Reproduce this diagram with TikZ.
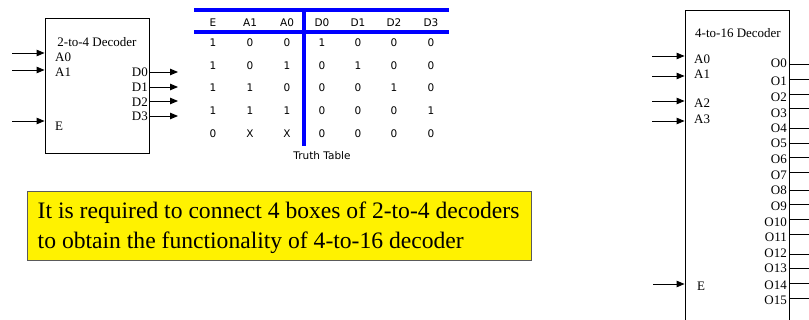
\documentclass[tikz,border=0pt]{standalone}
\usepackage{fontspec}
\setmainfont{Liberation Serif}
\newfontfamily\ttabfont{DejaVu Sans}
\usetikzlibrary{arrows.meta}
\definecolor{tblue}{RGB}{0,0,255}
\definecolor{boxgray}{RGB}{90,90,90}
\tikzset{
  decbox/.style={draw=black, line width=0.9pt, inner sep=0pt},
  arr/.style={-{Triangle[length=8pt,width=6.5pt]}, line width=0.9pt},
  wire/.style={line width=0.9pt},
  lbl/.style={font=\fontsize{13}{14}\selectfont, inner sep=0pt},
  tlab/.style={font=\ttabfont\fontsize{10.5}{12}\selectfont, inner sep=0pt},
  tline/.style={draw=tblue, line width=3.5pt},
  notebox/.style={draw=boxgray, line width=0.9pt, fill=yellow, inner sep=0pt,
    minimum width=504pt, minimum height=69pt},
  notetext/.style={inner sep=0pt, align=left, font=\fontsize{23.6}{29.5}\selectfont}
}
\begin{document}
\begin{tikzpicture}[x=1pt,y=-1pt]
\useasboundingbox (0,0) rectangle (809,320);
\clip (0,0) rectangle (809,320);
\fill[white] (0,0) rectangle (809,320);

% ---- 2-to-4 decoder
\node[decbox, minimum width=104pt, minimum height=135pt] (d24) at (97,85.5) {};
\node[lbl] (d24t) at (97,42) {2-to-4 Decoder};
\node[lbl, anchor=west] (la0) at (55,57) {A0};
\node[lbl, anchor=west] (la1) at (55,72) {A1};
\node[lbl, anchor=west] (le) at (55,126) {E};
\node[lbl, anchor=east] (ld0) at (148,72) {D0};
\node[lbl, anchor=east] (ld1) at (148,87) {D1};
\node[lbl, anchor=east] (ld2) at (148,102) {D2};
\node[lbl, anchor=east] (ld3) at (148,116) {D3};
\coordinate (ia0) at (12,53);
\coordinate (ia1) at (12,70);
\coordinate (ie) at (12,121);
\draw[arr] (ia0) -- (ia0 -| d24.west);
\draw[arr] (ia1) -- (ia1 -| d24.west);
\draw[arr] (ie) -- (ie -| d24.west);
\coordinate (od0) at (178,72);
\coordinate (od1) at (178,87);
\coordinate (od2) at (178,101);
\coordinate (od3) at (178,116);
\foreach \o in {od0,od1,od2,od3} \draw[arr] (\o -| d24.east) -- (\o);

% ---- truth table
\draw[tline] (194,10) -- (449,10);
\draw[tline] (194,32) -- (449,32);
\draw[tline] (304,10) -- (304,146);
\foreach \x/\t in {213/E,250/A1,287/A0,322/D0,358/D1,394/D2,431/D3}
  \node[tlab] at (\x,23) {\t};
\foreach \y/\a/\b/\c/\d/\e/\f/\g in {43/1/0/0/1/0/0/0, 66/1/0/1/0/1/0/0, 88/1/1/0/0/0/1/0, 111/1/1/1/0/0/0/1, 134/0/X/X/0/0/0/0}{
  \node[tlab] at (213,\y) {\a};
  \node[tlab] at (250,\y) {\b};
  \node[tlab] at (287,\y) {\c};
  \node[tlab] at (322,\y) {\d};
  \node[tlab] at (358,\y) {\e};
  \node[tlab] at (394,\y) {\f};
  \node[tlab] at (431,\y) {\g};
}
\node[tlab] (tt) at (322,156) {Truth Table};

% ---- note
\node[notebox] (nt) at (279,225.5) {};
\node[notetext, anchor=west] (ntt) at ([xshift=11pt,yshift=-2pt]nt.west) {It is required to connect 4 boxes of 2-to-4 decoders\\to obtain the functionality of 4-to-16 decoder};

% ---- 4-to-16 decoder
\node[decbox, minimum width=104pt, minimum height=330pt] (d416) at (737,175) {};
\node[lbl] (d416t) at (738,33) {4-to-16 Decoder};
\node[lbl, anchor=west] (ra0) at (694,59) {A0};
\node[lbl, anchor=west] (ra1) at (694,74) {A1};
\node[lbl, anchor=west] (ra2) at (694,103) {A2};
\node[lbl, anchor=west] (ra3) at (694,119) {A3};
\node[lbl, anchor=west] (re) at (697,286) {E};
\coordinate (ja0) at (652,56);
\coordinate (ja1) at (652,76);
\coordinate (ja2) at (652,101);
\coordinate (ja3) at (652,121);
\coordinate (je) at (653,284);
\foreach \i in {ja0,ja1,ja2,ja3,je} \draw[arr] (\i) -- (\i -| d416.west);
\foreach \n/\ly/\wy in {0/63/64,1/81/79,2/97/94,3/113/108,4/128/128,5/143/143,6/159/157,7/175/172,8/190/190,9/206/204,10/222/219,11/237/234,12/253/254,13/268/268,14/285/283,15/300/298}{
  \node[lbl, anchor=east] (o\n) at (787,\ly) {O\n};
  \coordinate (w\n) at (812,\wy);
  \draw[wire] (w\n -| d416.east) -- (w\n);
}
\end{tikzpicture}
\end{document}
